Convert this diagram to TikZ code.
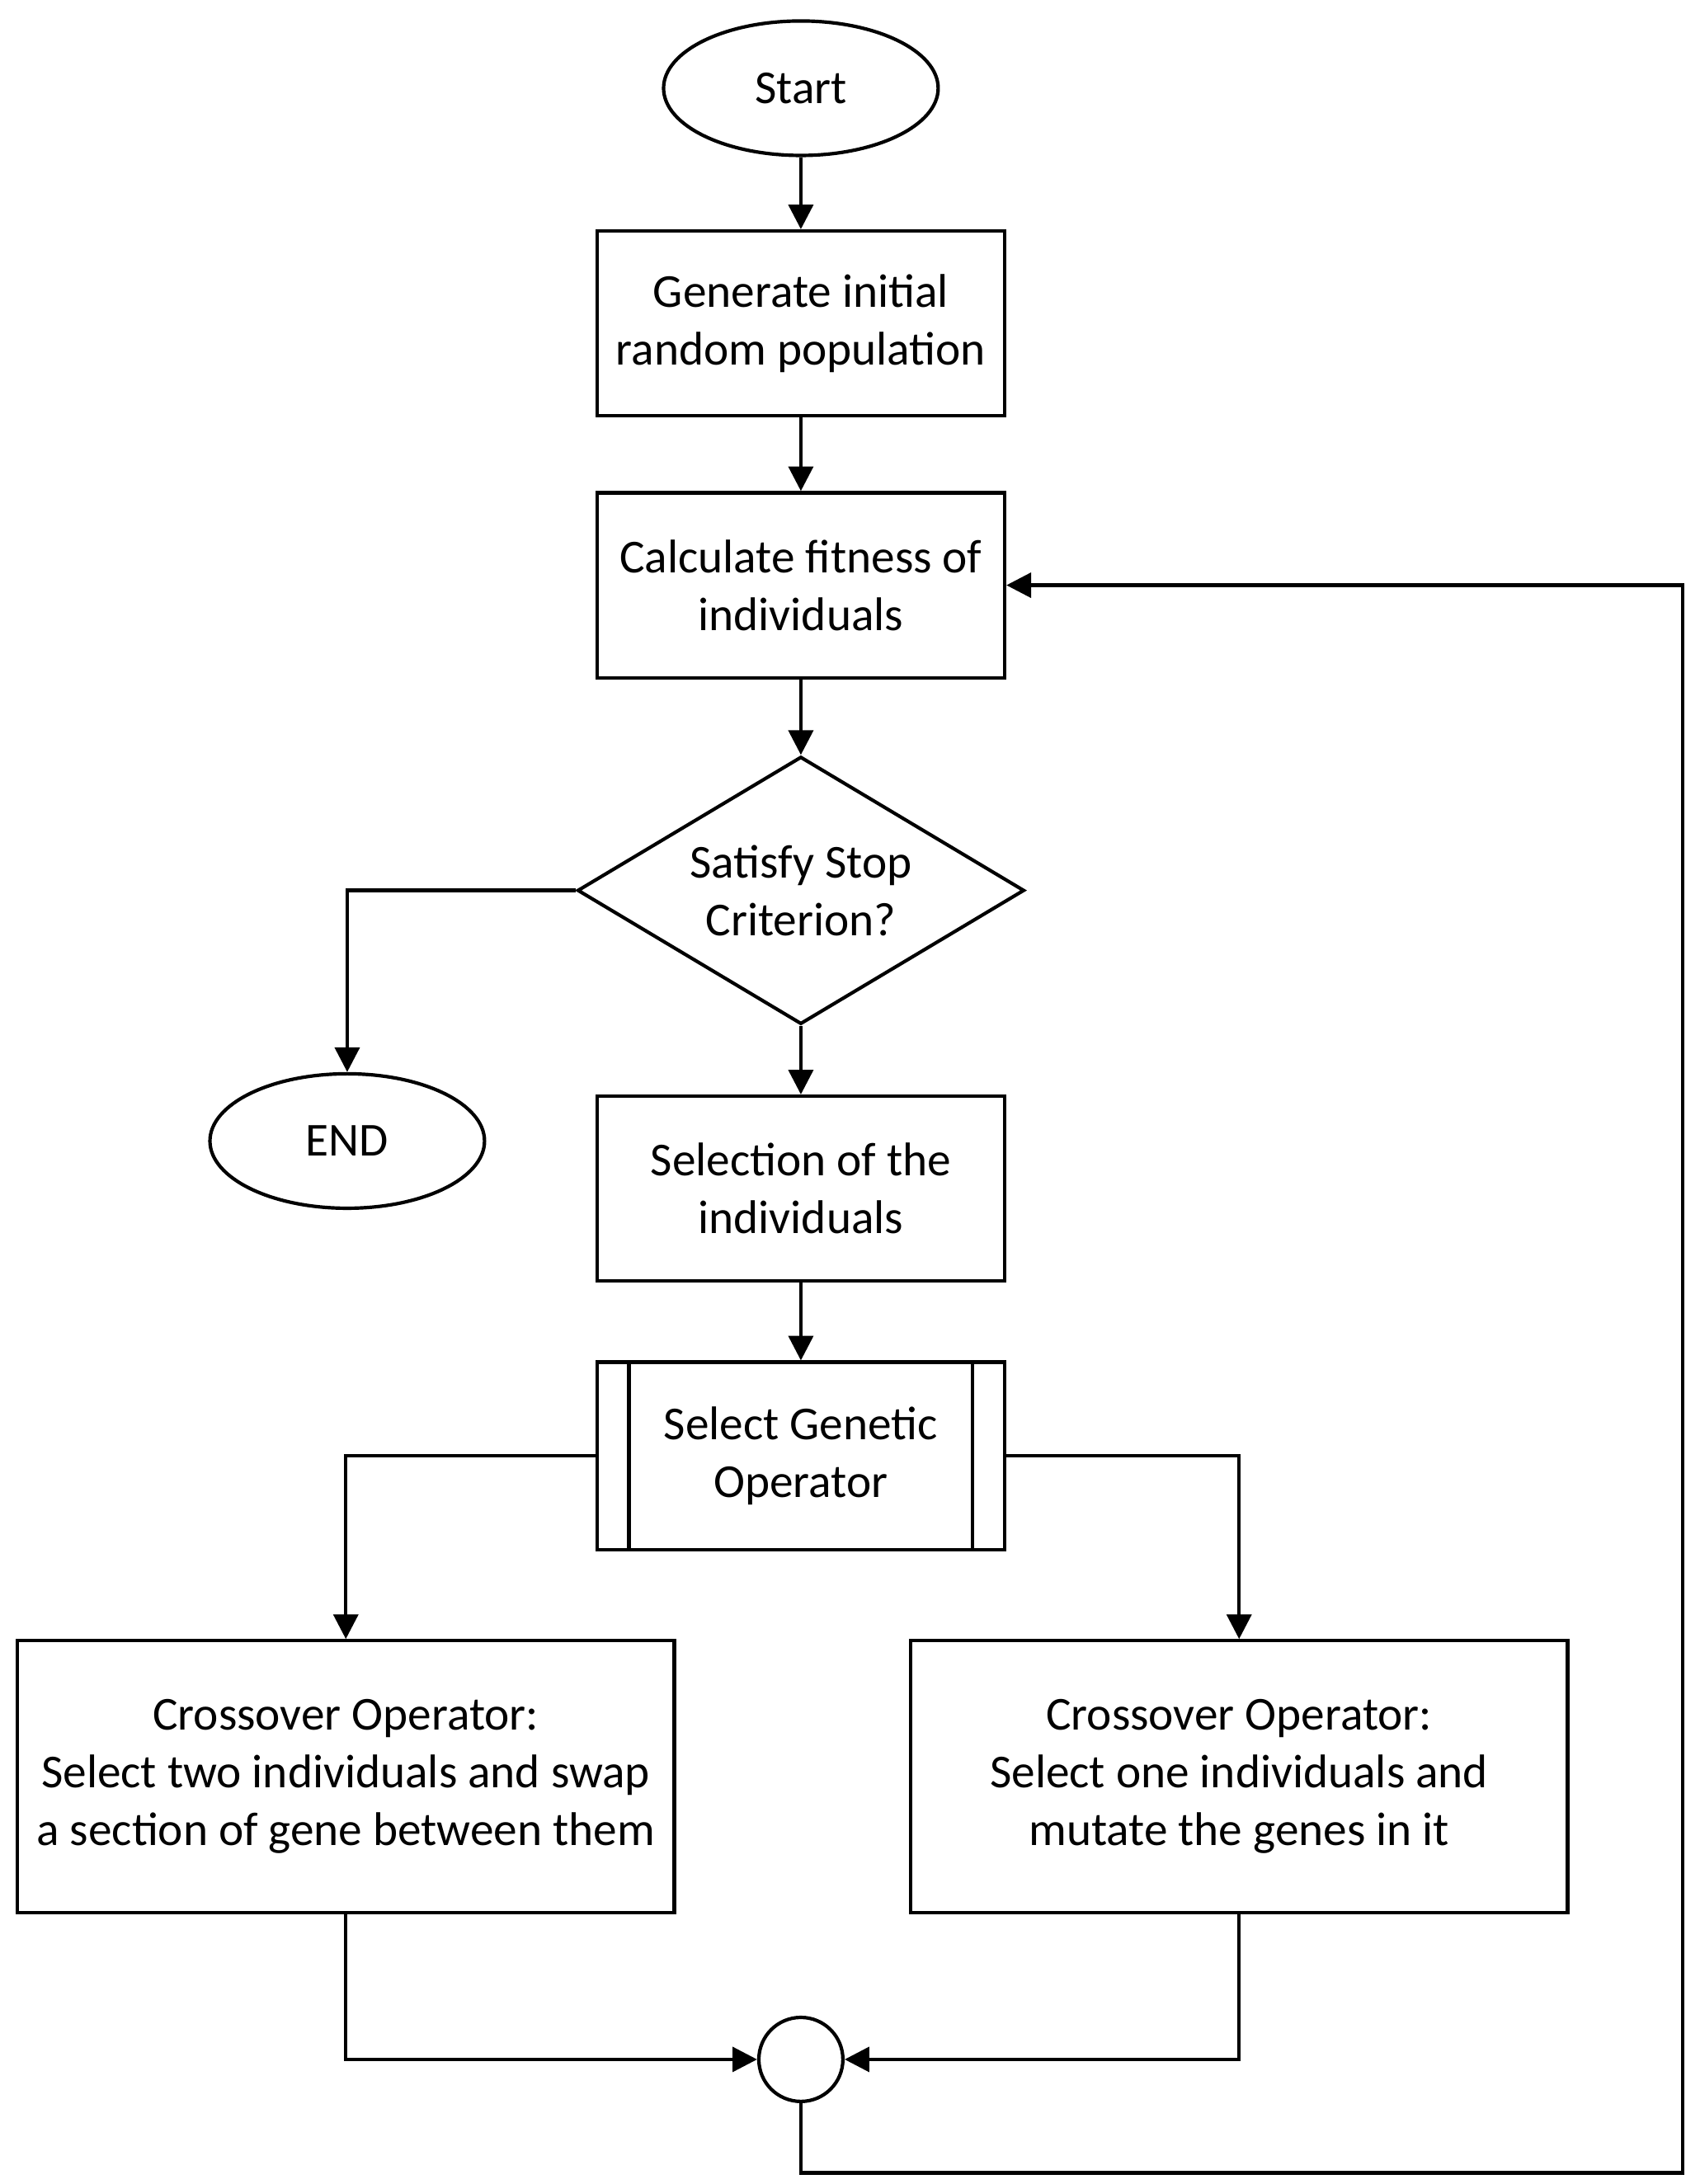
\documentclass[tikz,border=0pt]{standalone}
\usepackage{fontspec}
\setmainfont{Carlito}
\usetikzlibrary{shapes.geometric,arrows.meta}
\begin{document}
\begin{tikzpicture}[x=0.01cm, y=-0.01cm,
	every node/.style={font=\fontsize{9.6}{11.7}\selectfont, align=center},
	box/.style={draw, line width=0.7pt, minimum width=2.91cm, minimum height=1.32cm, inner sep=0pt},
	wide box/.style={box, minimum width=4.69cm, minimum height=1.94cm},
	term/.style={draw, line width=0.7pt, ellipse, minimum width=1.96cm, minimum height=0.96cm, inner sep=0pt},
	flow/.style={line width=0.7pt, -{Triangle[length=5pt, width=5pt]}}]
	\useasboundingbox (0,0) rectangle (1214,1560);
	\node[term] (start) at (572,63) {Start};
	\node[box] (init) at (572,231) {Generate initial\\random population};
	\node[box] (fit) at (572,418) {Calculate fitness of\\individuals};
	\node[draw, line width=0.7pt, diamond, aspect=1.67, minimum width=3.19cm, minimum height=1.91cm, inner sep=0pt] (stop) at (572,636) {Satisfy Stop\\Criterion?};
	\node[term] (end) at (248,815) {END};
	\node[box] (sel) at (572,849) {Selection of the\\individuals};
	\node[box, minimum height=1.34cm] (op) at (572,1040) {Select Genetic\\Operator};
	\draw[line width=0.7pt] ([xshift=0.24cm]op.north west) -- ([xshift=0.24cm]op.south west);
	\draw[line width=0.7pt] ([xshift=-0.24cm]op.north east) -- ([xshift=-0.24cm]op.south east);
	\node[wide box] (cross) at (247,1269) {Crossover Operator:\\Select two individuals and swap\\a section of gene between them};
	\node[wide box] (mut) at (885,1269) {Crossover Operator:\\Select one individuals and\\mutate the genes in it};
	\node[draw, line width=0.7pt, circle, minimum size=0.6cm, inner sep=0pt] (join) at (572,1471) {};
	\coordinate (loopa) at (572,1552);
	\coordinate (loopb) at (1202,1552);
	\coordinate (loopc) at (1202,418);

	\draw[flow] (start) -- (init);
	\draw[flow] (init) -- (fit);
	\draw[flow] (fit) -- (stop);
	\draw[flow] (stop) -- (sel);
	\draw[flow] (stop.west) -| (end.north);
	\draw[flow] (sel) -- (op);
	\draw[flow] (op.west) -| (cross.north);
	\draw[flow] (op.east) -| (mut.north);
	\draw[flow] (cross.south) |- (join.west);
	\draw[flow] (mut.south) |- (join.east);
	\draw[flow] (join.south) -- (loopa) -- (loopb) -- (loopc) -- (fit.east);
\end{tikzpicture}
\end{document}
